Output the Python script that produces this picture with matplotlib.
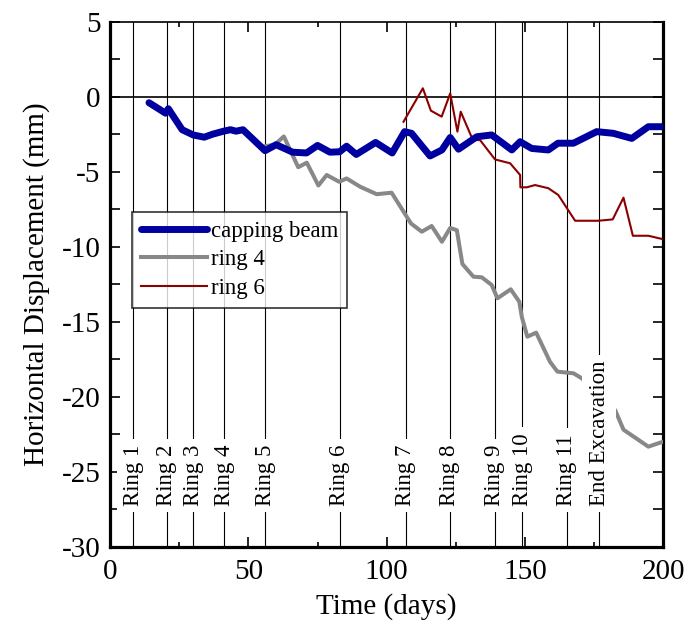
import matplotlib
matplotlib.use("Agg")
from matplotlib import pyplot as plt
from matplotlib.ticker import MultipleLocator

plt.rcParams['font.family'] = ['Liberation Serif', 'DejaVu Serif']
plt.rcParams['axes.unicode_minus'] = False

# Capping beam displacement (days, mm)
beam_days = [14, 20, 21, 26, 30, 34, 37, 41, 43.5, 45.5, 48, 56, 60, 66, 71, 75, 79.5, 83, 85.5,
             89, 96, 102, 106.5, 109, 115.7, 120, 123, 126, 132.6, 138, 145.3, 148.3, 152.5,
             158.5, 162, 167.6, 176, 182, 188.7, 194.7, 200]
beam_disp = [-0.4, -1.1, -0.8, -2.2, -2.55, -2.7, -2.5, -2.3, -2.2, -2.3, -2.2, -3.6, -3.2, -3.7,
             -3.75, -3.25, -3.7, -3.67, -3.3, -3.85, -3.05, -3.75, -2.33, -2.44, -3.95, -3.55,
             -2.72, -3.5, -2.67, -2.55, -3.55, -3.0, -3.45, -3.55, -3.1, -3.1, -2.33, -2.44,
             -2.78, -2.0, -2.0]

# Ring 4
ring4_days = [56, 59.5, 62.8, 68, 71.1, 75.3, 78.3, 82.8, 85.5, 90.4, 96.4, 101.8, 108.8, 112.7,
              116.3, 120, 123, 125.4, 127.4, 131.4, 134.4, 138, 140.1, 144.9, 148, 148.9, 150.9,
              154.1, 159.1, 161.8, 167.6, 170.6, 182.7, 185.7, 194.7, 200]
ring4_disp = [-3.3, -3.2, -2.65, -4.7, -4.4, -5.92, -5.22, -5.67, -5.45, -6.0, -6.5, -6.4, -8.45,
              -9.0, -8.62, -9.67, -8.75, -8.9, -11.15, -12.0, -12.04, -12.55, -13.44, -12.84,
              -13.67, -14.67, -16.0, -15.73, -17.67, -18.33, -18.44, -18.77, -20.9, -22.2,
              -23.33, -23.0]

# Ring 6
ring6_days = [106.1, 113.1, 116, 119.9, 123, 125.6, 126.8, 131.2, 133.8, 139.2, 144.7, 148.3,
              148.4, 150.7, 153.7, 158.5, 162.1, 168.2, 176.6, 181.8, 185.7, 189.1, 194.7, 200]
ring6_disp = [-1.67, 0.56, -0.93, -1.33, 0.22, -2.33, -1.0, -2.89, -2.89, -4.18, -4.44, -5.22,
              -6.04, -6.04, -5.89, -6.1, -6.55, -8.27, -8.27, -8.18, -6.73, -9.27, -9.27, -9.5]

# Construction stages
stage_days = [8.3, 20.4, 30, 41.3, 56, 83.1, 107, 122.9, 139.2, 149, 165.2, 176.9]
stage_names = ['Ring 1', 'Ring 2', 'Ring 3', 'Ring 4', 'Ring 5', 'Ring 6', 'Ring 7', 'Ring 8',
               'Ring 9', 'Ring 10', 'Ring 11', 'End Excavation']

fig = plt.figure(figsize=(6.99, 6.31), dpi=100)
ax = fig.add_axes([0.1578, 0.1336, 0.7907, 0.832])

for d, name in zip(stage_days, stage_names):
    ax.axvline(d, color='black', lw=0.8, zorder=1)
    ax.text(d, -27.3, name, rotation=90, ha='center', va='bottom', fontsize=16.5, zorder=6,
            bbox=dict(facecolor='white', edgecolor='none', pad=4.5))

ax.axhline(0, color='black', lw=1.2, zorder=2)

ax.plot(beam_days, beam_disp, color='#0000A0', lw=5.0, solid_joinstyle='round',
        solid_capstyle='round', label='capping beam', zorder=4)
ax.plot(ring4_days, ring4_disp, color='#888888', lw=2.9, label='ring 4', zorder=3)
ax.plot(ring6_days, ring6_disp, color='#8B0000', lw=1.5, label='ring 6', zorder=3)

ax.set_xlim(0, 200)
ax.set_ylim(-30, 5)
ax.xaxis.set_major_locator(MultipleLocator(50))
ax.xaxis.set_minor_locator(MultipleLocator(25))
ax.yaxis.set_major_locator(MultipleLocator(5))
ax.yaxis.set_minor_locator(MultipleLocator(2.5))
ax.tick_params(which='both', direction='in', top=True, right=True, labelsize=21, width=1.2)
ax.tick_params(axis='x', which='major', length=7, pad=9)
ax.tick_params(axis='x', which='minor', length=3.6)
ax.tick_params(axis='y', which='both', length=7, pad=7)

for side in ['left', 'right', 'bottom']:
    ax.spines[side].set_linewidth(2.3)
ax.spines['top'].set_linewidth(1.2)

ax.set_xlabel('Time (days)', fontsize=21, labelpad=6)
ax.set_ylabel('Horizontal Displacement (mm)', fontsize=21, labelpad=8)

leg = ax.legend(loc='upper left', bbox_to_anchor=(0.0387, 0.638), borderaxespad=0,
                fontsize=16.5, frameon=True, fancybox=False, handlelength=2.9,
                handletextpad=0.15, labelspacing=0.32, borderpad=0.4)
leg.get_frame().set_edgecolor('black')
leg.get_frame().set_linewidth(1.2)
leg.set_zorder(7)

fig.savefig('out.png', dpi=100)
